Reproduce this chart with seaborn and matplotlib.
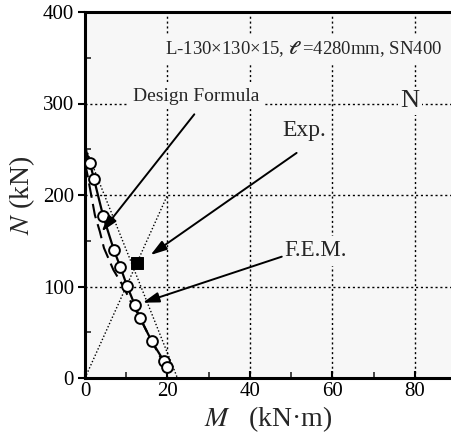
import matplotlib
matplotlib.use("Agg")
import matplotlib.pyplot as plt
import seaborn as sns
import numpy as np
import pandas as pd
from matplotlib.ticker import MultipleLocator

# ---- data ----
fem_M = [0.0, 1.2, 2.2, 4.4, 7.0, 8.6, 10.2, 12.1, 13.3, 16.2, 19.1, 19.8]
fem_N = [252, 235, 217, 177, 140, 121, 100.5, 79.5, 66, 40, 18.6, 12]
fem_marker = [False] + [True] * 11

design_M = [0.0, 0.6, 2.4, 3.6, 4.6, 6.9, 9.3, 10.9, 13.3, 16.2, 19.6]
design_N = [235, 222, 178, 160, 142, 118, 100, 85, 66, 40, 12]

exp_M = [12.7]
exp_N = [126]

interact_M = [0.0, 22.4]
interact_N = [253, 0]

path_M = [0.0, 20.0]
path_N = [0, 200]

x_ticks = [0, 20, 40, 60, 80]
y_ticks = [0, 100, 200, 300, 400]

sns.set_theme(style="ticks")
plt.rcParams["font.family"] = ["Liberation Serif", "DejaVu Serif"]
plt.rcParams["mathtext.fontset"] = "stix"

W, H = 452, 447
fig = plt.figure(figsize=(W / 100, H / 100), dpi=100)
x0, x1 = 85, 452
y0, y1 = 12, 378
ax = fig.add_axes([x0 / W, 1 - y1 / H, (x1 - x0) / W, (y1 - y0) / H])
bg = "#f7f7f7"
ax.set_facecolor(bg)

ax.set_xlim(0, (x1 - x0) / 4.125)
ax.set_ylim(0, 400)

# grid
for gx in [20, 40, 60, 80]:
    ax.axvline(gx, color="black", ls=(0, (1.5, 2)), lw=1.0, zorder=1)
for gy in [100, 200, 300]:
    ax.axhline(gy, color="black", ls=(0, (1.5, 2)), lw=1.0, zorder=1)

# thin dotted guide lines
sns.lineplot(x=interact_M, y=interact_N, ax=ax, color="black", lw=1.0,
             ls=(0, (1, 1.5)), sort=False, estimator=None, zorder=2)
sns.lineplot(x=path_M, y=path_N, ax=ax, color="black", lw=1.0,
             ls=(0, (1, 1.5)), sort=False, estimator=None, zorder=2)

# design formula (dashed)
sns.lineplot(x=design_M, y=design_N, ax=ax, color="black", lw=1.5,
             ls=(0, (7, 3)), sort=False, estimator=None, zorder=3)

# FEM line + circles
sns.lineplot(x=fem_M, y=fem_N, ax=ax, color="black", lw=1.6,
             sort=False, estimator=None, zorder=4)
fm = [m for m, k in zip(fem_M, fem_marker) if k]
fn = [n for n, k in zip(fem_N, fem_marker) if k]
sns.scatterplot(x=fm, y=fn, ax=ax, marker="o", s=60, facecolor="white",
                edgecolor="black", linewidth=1.4, zorder=5)

# experiment
sns.scatterplot(x=exp_M, y=exp_N, ax=ax, marker="s", s=75, color="black",
                edgecolor="black", zorder=6)

# annotations
box = dict(boxstyle="square,pad=0.2", fc=bg, ec="none")
ax.text(53.0, 359, "L-130×130×15, $\\boldsymbol{\\ell}$ =4280mm, SN400",
        ha="center", va="center", fontsize=13.5, bbox=box, zorder=7)
ax.text(78.8, 302.7, "N", ha="center", va="center", fontsize=19,
        bbox=dict(boxstyle="square,pad=0.1", fc=bg, ec="none"), zorder=7)
ax.text(27.0, 308, "Design Formula", ha="center", va="center", fontsize=14,
        bbox=box, zorder=7)
ax.text(53.1, 270, "Exp.", ha="center", va="center", fontsize=17,
        bbox=box, zorder=7)
ax.text(55.9, 139, "F.E.M.", ha="center", va="center", fontsize=16.5,
        bbox=box, zorder=7)

arrow = dict(arrowstyle="-|>,head_length=0.7,head_width=0.22", color="black",
             lw=1.4, shrinkA=0, shrinkB=0, mutation_scale=14)
ax.annotate("", xy=(4.05, 160), xytext=(26.5, 288.2), arrowprops=arrow, zorder=7)
ax.annotate("", xy=(15.9, 134.4), xytext=(51.3, 246), arrowprops=arrow, zorder=7)
ax.annotate("", xy=(14.0, 82.3), xytext=(47.7, 132.6), arrowprops=arrow, zorder=7)

# axes styling
for s in ["left", "bottom", "top"]:
    ax.spines[s].set_linewidth(2.2)
    ax.spines[s].set_color("black")
ax.spines["right"].set_visible(False)

ax.set_xticks(x_ticks)
ax.set_yticks(y_ticks)
ax.xaxis.set_minor_locator(MultipleLocator(10))
ax.yaxis.set_minor_locator(MultipleLocator(50))
ax.tick_params(which="major", direction="out", length=5, width=1.5,
               labelsize=15, colors="black", pad=3)
ax.tick_params(which="minor", direction="in", length=4, width=1.2)
ax.tick_params(axis="x", which="major", direction="in", length=5)
ax.set_xlabel("$M$   (kN·m)", fontsize=20, labelpad=2)
ax.set_ylabel("$N$ (kN)", fontsize=20, labelpad=4)

fig.savefig("out.png", dpi=100)
